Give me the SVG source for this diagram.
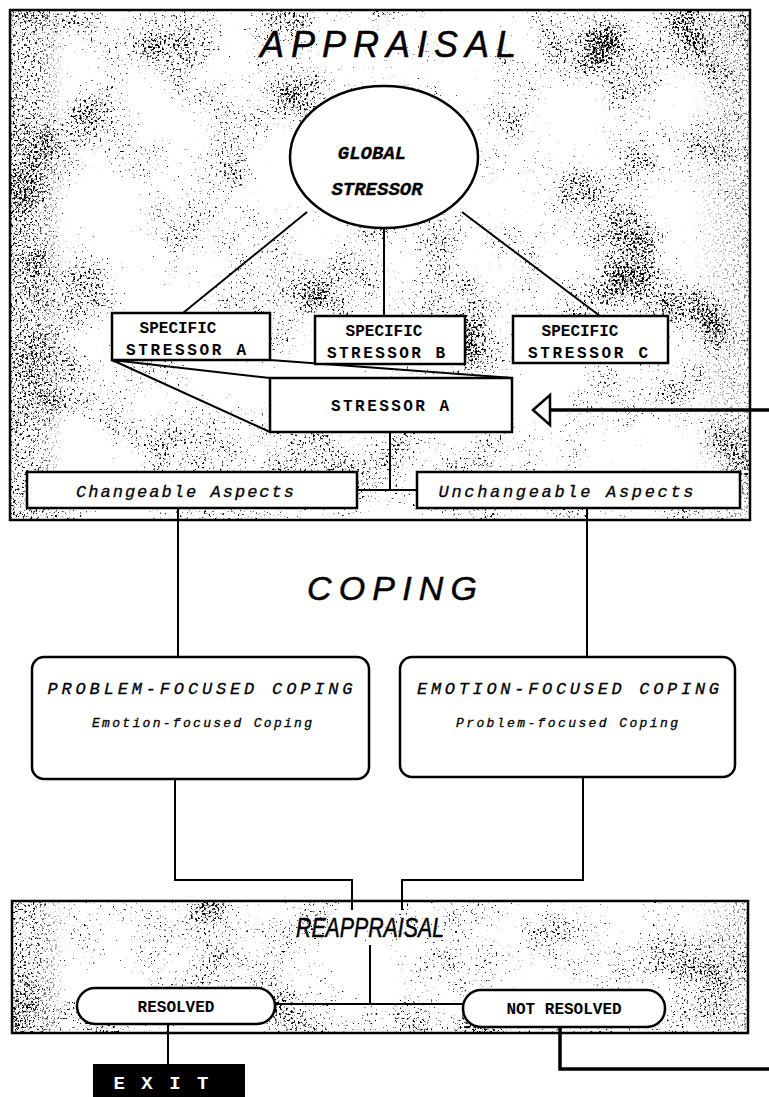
<svg xmlns="http://www.w3.org/2000/svg" width="769" height="1097" viewBox="0 0 769 1097">
<style>
.box{fill:#fff;stroke:#000;stroke-width:2.5}
.ln{fill:none;stroke:#000;stroke-width:2}
.thick{fill:none;stroke:#000;stroke-width:3.5}
.mono{font-family:"Liberation Mono","Courier New",monospace;font-weight:bold;fill:#000}
.imono{font-family:"Liberation Mono","Courier New",monospace;font-style:italic;fill:#000;stroke:#000;stroke-width:0.3}
.title{font-family:"Liberation Sans",Arial,sans-serif;font-style:italic;fill:#000;stroke:#000;stroke-width:0.5}
</style>
<defs>
<filter id="speck" x="0" y="0" width="100%" height="100%" filterUnits="objectBoundingBox" color-interpolation-filters="sRGB">
<feTurbulence type="fractalNoise" baseFrequency="0.45" numOctaves="2" seed="4" result="f"/>
<feTurbulence type="fractalNoise" baseFrequency="0.012" numOctaves="3" seed="7" result="c"/>
<feColorMatrix in="f" type="matrix" values="0 0 0 0 0  0 0 0 0 0  0 0 0 0 0  1 0 0 0 0" result="fa"/>
<feColorMatrix in="c" type="matrix" values="0 0 0 0 0  0 0 0 0 0  0 0 0 0 0  1 0 0 0 0" result="ca"/>
<feComposite in="fa" in2="ca" operator="arithmetic" k1="0" k2="0.55" k3="0.45" k4="0" result="s"/>
<feColorMatrix in="s" type="matrix" values="0 0 0 0 0  0 0 0 0 0  0 0 0 0 0  0 0 0 14 -8.5"/>
</filter>
<filter id="speckD" x="0" y="0" width="100%" height="100%" filterUnits="objectBoundingBox" color-interpolation-filters="sRGB">
<feTurbulence type="fractalNoise" baseFrequency="0.45" numOctaves="2" seed="9"/>
<feColorMatrix type="matrix" values="0 0 0 0 0  0 0 0 0 0  0 0 0 0 0  10 0 0 0 -5.9"/>
</filter>
<linearGradient id="fade" x1="0" y1="0" x2="1" y2="0">
<stop offset="0" stop-color="#fff" stop-opacity="1"/>
<stop offset="0.5" stop-color="#fff" stop-opacity="0.9"/>
<stop offset="1" stop-color="#fff" stop-opacity="0"/>
</linearGradient>
<linearGradient id="fadeR" x1="1" y1="0" x2="0" y2="0">
<stop offset="0" stop-color="#fff" stop-opacity="0.6"/>
<stop offset="1" stop-color="#fff" stop-opacity="0"/>
</linearGradient>
<mask id="leftMask" maskUnits="userSpaceOnUse" x="0" y="0" width="769" height="1097">
<rect x="10" y="0" width="55" height="1097" fill="url(#fade)"/>
</mask>
<mask id="rightMask" maskUnits="userSpaceOnUse" x="0" y="0" width="769" height="1097">
<rect x="690" y="0" width="60" height="1097" fill="url(#fadeR)"/>
</mask>
</defs>
<rect width="769" height="1097" fill="#fff"/>

<g id="appraisal-panel">
<rect x="10" y="10" width="740" height="510" fill="#fff"/>
<rect x="10" y="10" width="740" height="510" fill="#000" filter="url(#speck)"/>
<g mask="url(#leftMask)"><rect x="10" y="10" width="55" height="510" fill="#000" filter="url(#speckD)"/></g>
<g mask="url(#rightMask)"><rect x="690" y="10" width="60" height="510" fill="#000" filter="url(#speckD)"/></g>
<rect x="10" y="10" width="740" height="510" fill="none" stroke="#000" stroke-width="2.5"/>
<text class="title" x="388" y="57" font-size="36" text-anchor="middle" textLength="256" lengthAdjust="spacing">APPRAISAL</text>
</g>

<g id="reappraisal-panel">
<rect x="12" y="901" width="736" height="132" fill="#fff"/>
<rect x="12" y="901" width="736" height="132" fill="#000" filter="url(#speck)"/>
<g mask="url(#leftMask)"><rect x="12" y="901" width="53" height="132" fill="#000" filter="url(#speckD)"/></g>
<g mask="url(#rightMask)"><rect x="690" y="901" width="58" height="132" fill="#000" filter="url(#speckD)"/></g>
<rect x="12" y="901" width="736" height="132" fill="none" stroke="#000" stroke-width="2.5"/>
</g>

<g id="connectors">
<line class="ln" x1="307" y1="212" x2="183" y2="313"/>
<line class="ln" x1="384" y1="228" x2="384" y2="316"/>
<line class="ln" x1="462" y1="212" x2="600" y2="316"/>
<polyline class="ln" points="270,378 112,360 270,432"/>
<line class="ln" x1="270" y1="360" x2="512" y2="378"/>
<line class="ln" x1="390" y1="432" x2="390" y2="490"/>
<line class="ln" x1="357" y1="490" x2="417" y2="490"/>
<line class="ln" x1="178" y1="508" x2="178" y2="657"/>
<line class="ln" x1="587" y1="508" x2="587" y2="657"/>
<polyline class="ln" points="175,779 175,880 352,880 352,910"/>
<polyline class="ln" points="583,777 583,880 402,880 402,910"/>
<line class="thick" x1="769" y1="410" x2="550" y2="410"/>
<polygon points="533,410 550,395 550,425" fill="#fff" stroke="#000" stroke-width="2.5" stroke-linejoin="miter"/>
<line class="ln" x1="370" y1="945" x2="370" y2="1004"/>
<line class="ln" x1="275" y1="1004" x2="463" y2="1004"/>
<line class="ln" x1="168" y1="1024" x2="168" y2="1064"/>
<polyline class="thick" points="560,1027 560,1069 769,1069"/>
</g>

<g id="global-stressor">
<ellipse class="box" cx="384" cy="157" rx="94" ry="71"/>
<text class="imono" font-weight="bold" font-size="19" x="372" y="159" text-anchor="middle">GLOBAL</text>
<text class="imono" font-weight="bold" font-size="19" x="377" y="195" text-anchor="middle">STRESSOR</text>
</g>

<g id="specific-a">
<rect class="box" x="112" y="313" width="158" height="47"/>
<text class="mono" font-size="16" x="178" y="333" text-anchor="middle">SPECIFIC</text>
<text class="mono" font-size="16" x="186" y="355" text-anchor="middle" textLength="120" lengthAdjust="spacing">STRESSOR A</text>
</g>

<g id="specific-b">
<rect class="box" x="315" y="316" width="150" height="48"/>
<text class="mono" font-size="16" x="384" y="336" text-anchor="middle">SPECIFIC</text>
<text class="mono" font-size="16" x="386" y="358" text-anchor="middle" textLength="118" lengthAdjust="spacing">STRESSOR B</text>
</g>

<g id="specific-c">
<rect class="box" x="513" y="316" width="155" height="47"/>
<text class="mono" font-size="16" x="580" y="336" text-anchor="middle">SPECIFIC</text>
<text class="mono" font-size="16" x="588" y="358" text-anchor="middle" textLength="120" lengthAdjust="spacing">STRESSOR C</text>
</g>

<g id="stressor-a">
<rect class="box" x="270" y="378" width="242" height="54"/>
<text class="mono" font-size="16" x="390" y="411" text-anchor="middle" textLength="118" lengthAdjust="spacing">STRESSOR A</text>
</g>

<g id="changeable">
<rect class="box" x="27" y="472" width="330" height="36"/>
<text class="imono" font-size="17" x="185" y="497" text-anchor="middle" textLength="218" lengthAdjust="spacing">Changeable Aspects</text>
</g>

<g id="unchangeable">
<rect class="box" x="417" y="472" width="323" height="36"/>
<text class="imono" font-size="17" x="566" y="497" text-anchor="middle" textLength="255" lengthAdjust="spacing">Unchangeable Aspects</text>
</g>

<g id="coping-title">
<text class="title" x="392" y="600" font-size="34" text-anchor="middle" textLength="170" lengthAdjust="spacing">COPING</text>
</g>

<g id="problem-focused">
<rect class="box" x="32" y="657" width="337" height="122" rx="12"/>
<text class="imono" font-size="17" x="200" y="694" text-anchor="middle" textLength="305" lengthAdjust="spacing">PROBLEM-FOCUSED  COPING</text>
<text class="imono" font-size="13" x="202" y="727" text-anchor="middle" textLength="220" lengthAdjust="spacing">Emotion-focused Coping</text>
</g>

<g id="emotion-focused">
<rect class="box" x="400" y="657" width="335" height="120" rx="12"/>
<text class="imono" font-size="17" x="568" y="694" text-anchor="middle" textLength="302" lengthAdjust="spacing">EMOTION-FOCUSED  COPING</text>
<text class="imono" font-size="13" x="567" y="727" text-anchor="middle" textLength="222" lengthAdjust="spacing">Problem-focused Coping</text>
</g>

<g id="reappraisal-title">
<text class="title" x="370" y="937" font-size="27" text-anchor="middle" textLength="148" lengthAdjust="spacingAndGlyphs">REAPPRAISAL</text>
</g>

<g id="resolved">
<rect class="box" x="77" y="988" width="198" height="36" rx="18"/>
<text class="mono" font-size="16" x="176" y="1012" text-anchor="middle">RESOLVED</text>
</g>

<g id="not-resolved">
<rect class="box" x="463" y="990" width="202" height="37" rx="18"/>
<text class="mono" font-size="16" x="564" y="1014" text-anchor="middle">NOT RESOLVED</text>
</g>

<g id="exit">
<rect x="93" y="1064" width="152" height="33" fill="#000"/>
<text class="mono" font-size="19" x="161" y="1089" text-anchor="middle" style="fill:#fff" textLength="95" lengthAdjust="spacing">EXIT</text>
</g>
</svg>
